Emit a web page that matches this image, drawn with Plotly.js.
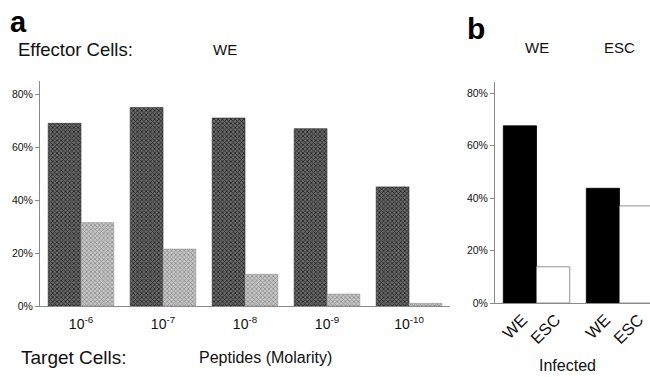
<!DOCTYPE html>
<html><head><meta charset="utf-8">
<script src="https://cdn.plot.ly/plotly-3.0.1.min.js"></script>
<style>html,body{margin:0;padding:0;background:#fff}</style>
</head><body><div id="chart" style="width:650px;height:377px"></div>
<script>
// Panel a: peptide concentrations (Molarity)
const peptideLabels = ["10<sup>-6</sup>","10<sup>-7</sup>","10<sup>-8</sup>","10<sup>-9</sup>","10<sup>-10</sup>"];
const darkValues = [69, 75, 71, 67, 45];
const lightValues = [31.5, 21.5, 12, 4.5, 1];
// Panel b: effector cells, infected targets
const effectorCats = ["WE", "ESC"];
const infectedWEValues = [67.5, 43.7];
const infectedESCValues = [13.8, 37];
const infectedLabels = ["WE", "ESC"];
const yTicks = [0, 20, 40, 60, 80];
const yTickText = ["0%", "20%", "40%", "60%", "80%"];

const FONT = "Liberation Sans, Arial, sans-serif";
const axisGrey = "#8a8a8a";

// per-bar label anchors in panel b (bargap 0.2, two bars per group; rotated labels end slightly right of bar centre)
const labelShift = 0.03;
const barTickVals = [];
const barTickText = [];
effectorCats.forEach((c, i) => {
  barTickVals.push(i - 0.2 + labelShift, i + 0.2 + labelShift);
  barTickText.push(infectedLabels[0], infectedLabels[1]);
});

const traces = [
  {type:"bar", x:peptideLabels, y:darkValues, xaxis:"x", yaxis:"y",
   marker:{color:"#5a5a5a", line:{color:"#2a2a2a", width:0.6},
           pattern:{shape:"x", size:3, solidity:0.45, fgcolor:"#1e1e1e", bgcolor:"#6a6a6a"}},
   hoverinfo:"skip", showlegend:false},
  {type:"bar", x:peptideLabels, y:lightValues, xaxis:"x", yaxis:"y",
   marker:{color:"#bcbcbc", line:{color:"#959595", width:0.6},
           pattern:{shape:"x", size:3, solidity:0.4, fgcolor:"#808080", bgcolor:"#c8c8c8"}},
   hoverinfo:"skip", showlegend:false},
  {type:"bar", x:effectorCats, y:infectedWEValues, xaxis:"x2", yaxis:"y2",
   marker:{color:"#000000", line:{color:"#000000", width:0.8}},
   hoverinfo:"skip", showlegend:false},
  {type:"bar", x:effectorCats, y:infectedESCValues, xaxis:"x2", yaxis:"y2",
   marker:{color:"#ffffff", line:{color:"#777777", width:0.8}},
   hoverinfo:"skip", showlegend:false},
  // carrier for the per-bar label axis (draws nothing)
  {type:"scatter", mode:"markers", x:barTickVals, y:barTickVals.map(() => null),
   xaxis:"x4", yaxis:"y2", hoverinfo:"skip", showlegend:false, marker:{opacity:0}}
];

const yCommon = {
  tickvals: yTicks, ticktext: yTickText, ticks:"outside", ticklen:4, tickcolor:axisGrey,
  showline:true, linecolor:axisGrey, linewidth:1, showgrid:false, zeroline:false,
  tickfont:{family:FONT, size:10.5, color:"#111"}, fixedrange:true
};

const layout = {
  width:650, height:377, margin:{l:0, r:0, t:0, b:0},
  paper_bgcolor:"#fff", plot_bgcolor:"#fff",
  bargap:0.2, bargroupgap:0, barmode:"group",
  font:{family:FONT, color:"#111"},
  xaxis:{domain:[40/650, 450/650], range:[-0.5, 4.5], type:"category",
         showline:true, linecolor:axisGrey, linewidth:1, ticks:"", showgrid:false,
         tickfont:{family:FONT, size:14, color:"#111"}, anchor:"y", ticklabelstandoff:5},
  yaxis:Object.assign({domain:[71/377, 296/377], range:[0, 85], anchor:"x"}, yCommon),
  xaxis2:{domain:[495/650, 1], range:[-0.5, 1.367], type:"category",
          showline:true, linecolor:axisGrey, linewidth:1, ticks:"", showgrid:false,
          showticklabels:false, anchor:"y2"},
  yaxis2:Object.assign({domain:[74/377, 295/377], range:[0, 84.2], anchor:"x2"}, yCommon),
  xaxis4:{overlaying:"x2", anchor:"y2", range:[-0.5, 1.367], type:"linear",
          tickmode:"array", tickvals:barTickVals, ticktext:barTickText, tickangle:-45, ticks:"",
          showline:false, showgrid:false, zeroline:false, ticklabelstandoff:3,
          ticklabeloverflow:"allow",
          tickfont:{family:FONT, size:16.5, color:"#111"}},
  annotations:[
    {text:"<b>a</b>", xref:"paper", yref:"paper", x:8/650, y:1-4/377, xanchor:"left", yanchor:"top",
     showarrow:false, font:{family:FONT, size:29, color:"#000"}},
    {text:"<b>b</b>", xref:"paper", yref:"paper", x:465/650, y:1-10/377, xanchor:"left", yanchor:"top",
     showarrow:false, font:{family:FONT, size:30, color:"#000"}},
    {text:"Effector Cells:", xref:"paper", yref:"paper", x:16/650, y:1-50/377, xanchor:"left", yanchor:"middle",
     showarrow:false, font:{family:FONT, size:18.5, color:"#111"}},
    {text:"WE", xref:"paper", yref:"paper", x:225/650, y:1-50/377, xanchor:"center", yanchor:"middle",
     showarrow:false, font:{family:FONT, size:15, color:"#111"}},
    {text:effectorCats[0], xref:"x2", yref:"paper", x:0, y:1-47/377, xanchor:"center", yanchor:"middle",
     showarrow:false, font:{family:FONT, size:15, color:"#111"}},
    {text:effectorCats[1], xref:"x2", yref:"paper", x:1, y:1-47/377, xanchor:"center", yanchor:"middle",
     showarrow:false, font:{family:FONT, size:15, color:"#111"}},
    {text:"Target Cells:", xref:"paper", yref:"paper", x:19/650, y:1-357/377, xanchor:"left", yanchor:"middle",
     showarrow:false, font:{family:FONT, size:19, color:"#111"}},
    {text:"Peptides (Molarity)", xref:"paper", yref:"paper", x:265/650, y:1-357/377, xanchor:"center", yanchor:"middle",
     showarrow:false, font:{family:FONT, size:16, color:"#111"}},
    {text:"Infected", xref:"paper", yref:"paper", x:567/650, y:1-365/377, xanchor:"center", yanchor:"middle",
     showarrow:false, font:{family:FONT, size:16, color:"#111"}}
  ]
};

Plotly.newPlot("chart", traces, layout, {staticPlot:true, displayModeBar:false});
</script></body></html>
